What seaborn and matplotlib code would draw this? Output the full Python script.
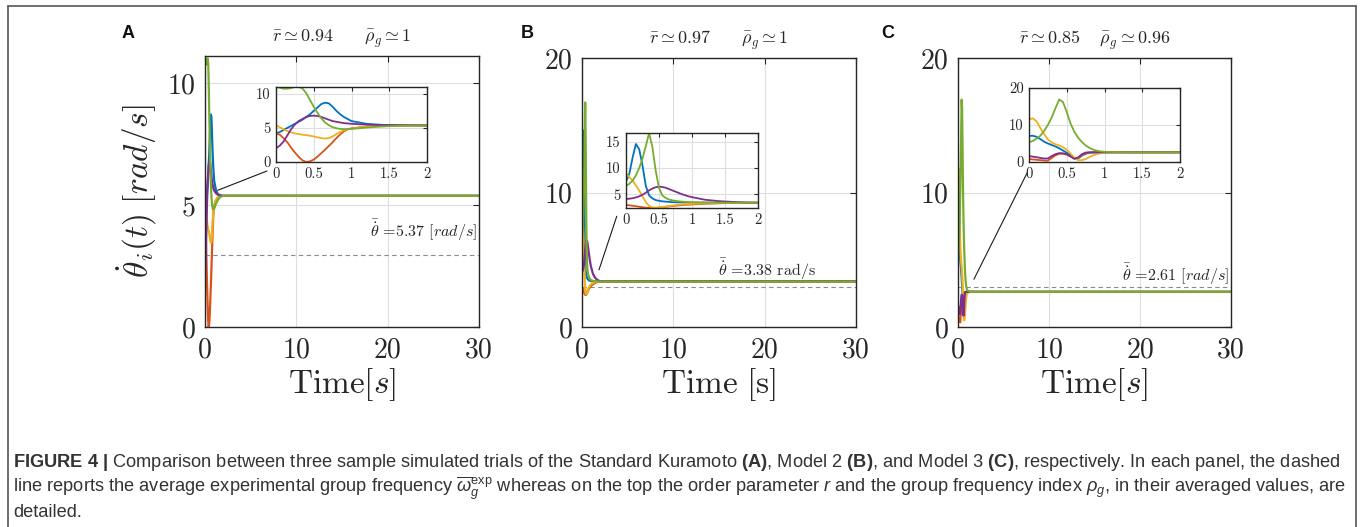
import matplotlib
matplotlib.use("Agg")
import matplotlib.pyplot as plt
import seaborn as sns
import pandas as pd
from matplotlib.lines import Line2D

# --- 1. Data (time in s, frequency in rad/s) ---
T = [0, 0.05, 0.1, 0.15, 0.2, 0.25, 0.3, 0.35, 0.4, 0.45, 0.5, 0.55, 0.6,
     0.65, 0.7, 0.75, 0.8, 0.85, 0.9, 0.95, 1.0, 1.2, 1.4, 1.6, 1.8, 2.0]
T_END = 30
OSC = ["osc1", "osc2", "osc3", "osc4", "osc5"]
COLORS = ["#0072BD", "#D95319", "#EDB120", "#7E2F8E", "#77AC30"]

# panel A - standard Kuramoto
A_BLUE = [4.2, 4.4, 4.7, 5.0, 5.3, 5.6, 5.9, 6.2, 6.6, 7.0, 7.5, 8.0, 8.5,
          8.7, 8.6, 8.1, 7.5, 7.0, 6.6, 6.3, 6.0, 5.6, 5.45, 5.4, 5.38, 5.37]
A_RED = [4.2, 4.0, 3.5, 2.9, 2.1, 1.4, 0.75, 0.25, 0.0, 0.1, 0.35, 0.8, 1.3,
         1.8, 2.35, 2.9, 3.5, 4.05, 4.5, 4.8, 4.95, 5.2, 5.3, 5.35, 5.37, 5.37]
A_YELLOW = [5.4, 5.1, 4.8, 4.55, 4.35, 4.2, 4.1, 4.0, 3.95, 3.85, 3.75, 3.6, 3.5,
            3.45, 3.5, 3.75, 4.1, 4.4, 4.65, 4.8, 4.9, 5.2, 5.3, 5.35, 5.37, 5.37]
A_PURPLE = [2.0, 2.4, 3.0, 3.9, 4.8, 5.5, 6.0, 6.3, 6.6, 6.75, 6.8, 6.75, 6.6,
            6.4, 6.2, 6.0, 5.9, 5.8, 5.7, 5.65, 5.6, 5.48, 5.42, 5.4, 5.38, 5.37]
A_GREEN = [11.0, 10.9, 10.75, 10.75, 10.85, 11.0, 11.0, 10.8, 10.1, 9.1, 8.1, 7.2, 6.4,
           5.8, 5.4, 5.1, 4.95, 4.85, 4.82, 4.82, 4.85, 5.05, 5.2, 5.3, 5.35, 5.37]

# panel B - model 2
B_BLUE = [7.4, 8.9, 12.0, 14.6, 13.6, 10.5, 6.6, 4.8, 4.2, 3.9, 3.75, 3.65, 3.6,
          3.55, 3.5, 3.48, 3.45, 3.44, 3.43, 3.42, 3.41, 3.4, 3.39, 3.38, 3.38, 3.38]
B_RED = [2.95, 2.9, 2.8, 2.72, 2.62, 2.52, 2.45, 2.4, 2.38, 2.4, 2.45, 2.52, 2.6,
         2.68, 2.75, 2.82, 2.88, 2.93, 2.98, 3.02, 3.06, 3.18, 3.27, 3.33, 3.36, 3.38]
B_YELLOW = [9.0, 8.3, 7.6, 6.7, 5.7, 4.6, 3.5, 2.8, 2.5, 2.45, 2.5, 2.55, 2.65,
            2.75, 2.85, 2.92, 3.0, 3.05, 3.1, 3.15, 3.18, 3.28, 3.33, 3.36, 3.37, 3.38]
B_PURPLE = [4.1, 4.15, 4.25, 4.4, 4.6, 4.9, 5.3, 5.75, 6.1, 6.35, 6.45, 6.4, 6.25,
            6.0, 5.75, 5.5, 5.25, 5.0, 4.8, 4.6, 4.45, 3.95, 3.7, 3.55, 3.45, 3.4]
B_GREEN = [6.6, 7.0, 7.6, 8.6, 10.0, 11.8, 14.2, 16.7, 14.0, 9.5, 6.2, 4.8, 4.3,
           4.0, 3.85, 3.75, 3.65, 3.6, 3.55, 3.5, 3.48, 3.43, 3.4, 3.39, 3.38, 3.38]

# panel C - model 3
C_BLUE = [7.05, 7.1, 6.8, 6.2, 5.5, 5.0, 4.6, 4.2, 3.7, 3.1, 2.5, 1.8, 1.0,
          1.0, 1.7, 2.2, 2.5, 2.58, 2.6, 2.61, 2.61, 2.61, 2.61, 2.61, 2.61, 2.61]
C_RED = [0.8, 0.7, 0.6, 0.5, 0.4, 0.35, 1.1, 1.8, 2.2, 2.25, 2.0, 1.5, 1.0,
         1.0, 1.8, 2.4, 2.6, 2.61, 2.61, 2.61, 2.61, 2.61, 2.61, 2.61, 2.61, 2.61]
C_YELLOW = [11.5, 11.8, 11.0, 9.2, 7.5, 6.1, 5.3, 4.8, 4.45, 4.0, 3.3, 2.3, 1.2,
            0.5, 0.5, 0.8, 1.3, 1.8, 2.15, 2.4, 2.5, 2.6, 2.61, 2.61, 2.61, 2.61]
C_PURPLE = [1.6, 1.45, 1.3, 1.1, 0.95, 0.95, 1.6, 2.1, 2.4, 2.35, 2.1, 1.5, 0.85,
            1.2, 2.1, 2.55, 2.6, 2.61, 2.61, 2.61, 2.61, 2.61, 2.61, 2.61, 2.61, 2.61]
C_GREEN = [5.3, 5.7, 6.3, 7.1, 8.4, 10.0, 12.0, 14.5, 16.9, 16.2, 13.5, 10.4, 8.2,
           6.6, 5.4, 4.5, 3.8, 3.35, 3.05, 2.85, 2.75, 2.65, 2.62, 2.61, 2.61, 2.61]

EXP_FREQ = [2.95, 2.95, 2.95]          # dashed line: experimental group frequency
MEAN_FREQ = ["5.37", "3.38", "2.61"]
R_BAR = ["0.94", "0.97", "0.85"]
RHO_BAR = ["1", "1", "0.96"]
PANEL_LETTERS = ["A", "B", "C"]

MAIN_XTICKS = [0, 10, 20, 30]
MAIN_YTICKS = [[0, 5, 10], [0, 10, 20], [0, 10, 20]]
MAIN_YMAX = [11.1, 20, 20]
INSET_XTICKS = [0, 0.5, 1, 1.5, 2]
INSET_XLABELS = ["0", "0.5", "1", "1.5", "2"]
INSET_YTICKS = [[0, 5, 10], [5, 10, 15], [0, 10, 20]]
INSET_YLIM = [(0, 11), (2.38, 16.7), (0, 20)]

CURVES = [[A_BLUE, A_RED, A_YELLOW, A_PURPLE, A_GREEN],
          [B_BLUE, B_RED, B_YELLOW, B_PURPLE, B_GREEN],
          [C_BLUE, C_RED, C_YELLOW, C_PURPLE, C_GREEN]]

# --- 2. Layout (pixels of a 1360 x 527 figure) ---
W, H = 1360, 527


def fig_rect(left, top, right, bottom):
    return [left / W, 1 - bottom / H, (right - left) / W, (bottom - top) / H]


MAIN_RECTS = [fig_rect(205, 56, 479, 327), fig_rect(582, 58, 856, 327), fig_rect(958, 58, 1231, 327)]
INSET_RECTS = [fig_rect(276, 87, 427, 162), fig_rect(626, 133, 758, 208), fig_rect(1029, 88, 1180, 162)]
LETTER_POS = [(128, 33), (527, 33), (888, 33)]
# connector: point on main axes (data) -> point near inset corner (inset axes fraction)
CONNECT = [((1.4, 5.6), (-0.06, -0.12)), ((1.86, 4.25), (-0.07, -0.11)), ((1.75, 3.55), (-0.013, -0.15))]
NOTE_POS = [(18.1, 3.97), (14.9, 4.3), (18.0, 3.94)]
XLABELS = [r"$\mathrm{Time}[s]$", r"$\mathrm{Time}\ [\mathrm{s}]$", r"$\mathrm{Time}[s]$"]
NOTE_UNITS = [r"$[rad/s]$", "rad/s", r"$[rad/s]$"]
TITLE_GAPS = [r"\qquad", r"\qquad", r"\quad\;"]

# --- 3. Style ---
sns.set_style("white")
plt.rcParams.update({
    "font.family": ["cmr10"],
    "mathtext.fontset": "cm",
    "mathtext.rm": "Liberation Sans",
    "mathtext.it": "Liberation Sans:italic",
    "mathtext.bf": "Liberation Sans:bold",
    "axes.formatter.use_mathtext": True,
    "axes.unicode_minus": False,
})
INK = "#262626"


def long_df(curves, with_tail):
    frames = []
    for name, vals in zip(OSC, curves):
        t = list(T) + ([T_END] if with_tail else [])
        w = list(vals) + ([vals[-1]] if with_tail else [])
        frames.append(pd.DataFrame({"t": t, "w": w, "osc": name}))
    return pd.concat(frames, ignore_index=True)


def style_axes(ax, size, length):
    ax.grid(True, color="#dedede", lw=0.8)
    ax.set_axisbelow(True)
    for s in ax.spines.values():
        s.set_visible(True)
        s.set_color(INK)
        s.set_linewidth(1.0)
    ax.tick_params(direction="in", top=True, right=True, length=length, width=0.8,
                   labelsize=size, colors=INK, pad=size * 0.35)
    ax.set_facecolor("white")


fig = plt.figure(figsize=(W / 100, H / 100), dpi=100)

for i in range(3):
    ax = fig.add_axes(MAIN_RECTS[i])
    sns.lineplot(data=long_df(CURVES[i], True), x="t", y="w", hue="osc", hue_order=OSC,
                 palette=COLORS, estimator=None, sort=False, legend=False, lw=1.6, ax=ax)
    ax.axhline(EXP_FREQ[i], color="#8a8a8a", lw=0.8, ls=(0, (4, 3)), zorder=1)
    ax.set_xlim(0, T_END)
    ax.set_ylim(0, MAIN_YMAX[i])
    ax.set_xticks(MAIN_XTICKS)
    ax.set_xticklabels([str(v) for v in MAIN_XTICKS])
    ax.set_yticks(MAIN_YTICKS[i])
    ax.set_yticklabels([str(v) for v in MAIN_YTICKS[i]])
    style_axes(ax, 20, 4)
    ax.tick_params(pad=7)
    ax.set_xlabel(XLABELS[i], fontsize=24, color=INK, labelpad=2)
    if i == 0:
        ax.set_ylabel(r"$\dot{\theta}_i(t)\ [rad/s]$", fontsize=24, color=INK, labelpad=6)
    else:
        ax.set_ylabel("")
    ax.set_title(r"$\bar{r}\simeq %s%s\bar{\rho}_g\simeq %s$" % (R_BAR[i], TITLE_GAPS[i], RHO_BAR[i]),
                 fontsize=13, color=INK, pad=10)
    ax.text(NOTE_POS[i][0], NOTE_POS[i][1],
            r"$\bar{\dot{\theta}}$ =%s %s" % (MEAN_FREQ[i], NOTE_UNITS[i]),
            fontsize=11.5, color=INK, va="center", ha="left")

    ins = fig.add_axes(INSET_RECTS[i])
    sns.lineplot(data=long_df(CURVES[i], False), x="t", y="w", hue="osc", hue_order=OSC,
                 palette=COLORS, estimator=None, sort=False, legend=False, lw=1.3, ax=ins)
    ins.set_xlim(0, 2)
    ins.set_ylim(*INSET_YLIM[i])
    ins.set_xticks(INSET_XTICKS)
    ins.set_xticklabels(INSET_XLABELS)
    ins.set_yticks(INSET_YTICKS[i])
    ins.set_yticklabels([str(v) for v in INSET_YTICKS[i]])
    ins.set_xlabel("")
    ins.set_ylabel("")
    style_axes(ins, 10.5, 3)

    (px, py), (qx, qy) = CONNECT[i]
    ax.annotate("", xy=(px, py), xycoords="data", xytext=(qx, qy), textcoords=ins.transAxes,
                arrowprops=dict(arrowstyle="-", color="#1a1a1a", lw=0.8, shrinkA=0, shrinkB=0))

    lx, ly = LETTER_POS[i]
    fig.text(lx / W, 1 - ly / H, PANEL_LETTERS[i], family="Liberation Sans", weight="bold",
             fontsize=13, ha="center", va="center", color="#111111")

# --- 4. Caption and page frame ---
CAPTION = [
    r"$\mathbf{FIGURE\ 4\ |}$ Comparison between three sample simulated trials of the Standard Kuramoto "
    r"$\mathbf{(A)}$, Model 2 $\mathbf{(B)}$, and Model 3 $\mathbf{(C)}$, respectively. In each panel, the dashed",
    r"line reports the average experimental group frequency $\overline{\omega}_g^{\mathrm{exp}}$ whereas on the top "
    r"the order parameter $r$ and the group frequency index $\rho_g$, in their averaged values, are",
    "detailed.",
]
for k, line in enumerate(CAPTION):
    fig.text(13 / W, 1 - (467 + 25 * k) / H, line, family="Liberation Sans", math_fontfamily="custom",
             fontsize=13.15, color="#333333", va="baseline", ha="left")

frame = dict(transform=fig.transFigure, color="#555555", lw=1.2)
fig.add_artist(Line2D([8 / W, 8 / W], [0, 1 - 6 / H], **frame))
fig.add_artist(Line2D([8 / W, 1356 / W], [1 - 6 / H, 1 - 6 / H], **frame))
fig.add_artist(Line2D([1356 / W, 1356 / W], [0, 1 - 6 / H], **frame))

fig.savefig("out.png", dpi=100)
